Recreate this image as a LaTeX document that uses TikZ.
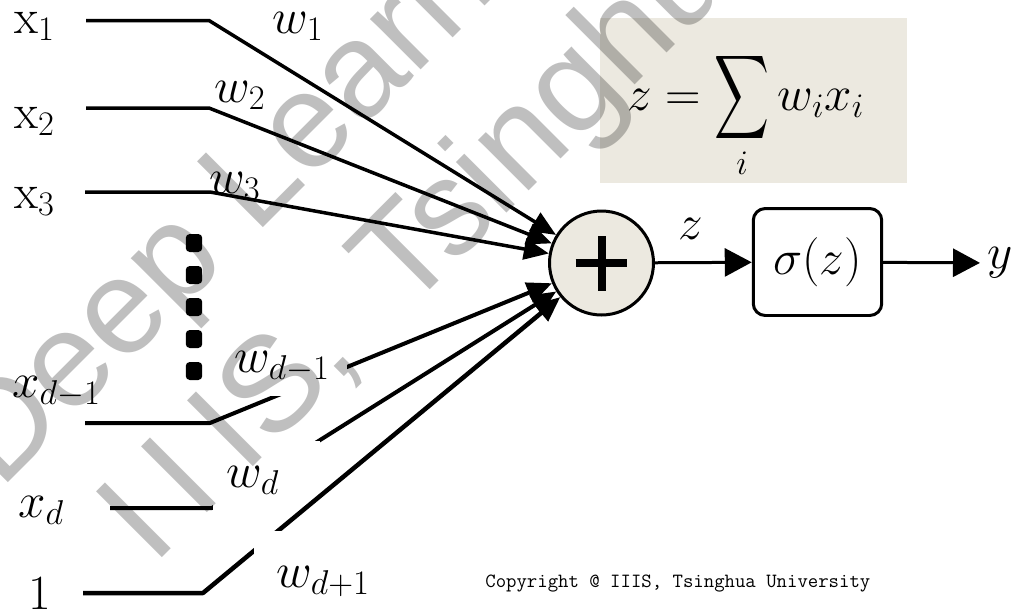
\RequirePackage{fix-cm}
\documentclass[tikz,border=0pt]{standalone}
\usepackage{amsmath}
\usepackage{fontspec}
\usepackage{graphicx}
\usetikzlibrary{arrows.meta}
\newfontfamily\wmfont{Liberation Sans}
\definecolor{sumbeige}{RGB}{236,233,224}

\begin{document}
\begin{tikzpicture}[x=0.02cm,y=-0.02cm,
    lab/.style={font=\fontsize{28}{33}\selectfont,inner sep=0pt,anchor=base west},
    wire/.style={line width=0.07cm,line join=round},
    arr/.style={wire,-{Triangle[length=0.5cm,width=0.42cm]}},
    outarr/.style={line width=0.06cm,-{Triangle[length=0.54cm,width=0.56cm]}},
    sumnode/.style={circle,draw=black,line width=0.06cm,fill=sumbeige,
                minimum size=2.08cm,inner sep=0pt},
    sigbox/.style={draw=black,line width=0.06cm,rounded corners=0.24cm,
                minimum width=2.57cm,minimum height=2.14cm,
                font=\fontsize{28}{33}\selectfont},
    vdot/.style={fill=black,rounded corners=0.08cm,minimum width=0.33cm,
                minimum height=0.36cm,inner sep=0pt},
    mask/.style={fill=white},
    wmark/.style={font=\wmfont\fontsize{77}{90}\selectfont,text=black,
                text opacity=0.25,rotate=45,inner sep=0pt,anchor=base west}
  ]
    \useasboundingbox (0,0) rectangle (1012,610);
    \fill[sumbeige] (600,18) rectangle (907,183);
    \node[lab] (fml) at (627,110)
      {$z=\mathop{\vcenter{\hbox{\scalebox{0.87}[1.34]{$\displaystyle\sum$}}}}\limits_{i}w_ix_i$};
    \node[sumnode] (sum) at (601.5,263) {};
    \draw[line width=0.16cm] ([xshift=-0.52cm]sum.center) -- ([xshift=0.52cm]sum.center);
    \draw[line width=0.16cm] ([yshift=-0.55cm]sum.center) -- ([yshift=0.55cm]sum.center);
    \node[sigbox] (sig) at (817.5,262) {$\sigma(z)$};
    \node[lab,inner sep=0.15cm,anchor=west] (yout) at (980,263) {$y$};
    \draw[outarr] (sum) -- node[lab,anchor=base,pos=0.37,yshift=0.46cm] (zlab) {$z$} (sig);
    \draw[outarr] (sig) -- (yout);
    \node[lab] (x1) at (14,33) {$\mathrm{x}_1$};
    \node[lab] (x2) at (14,128) {$\mathrm{x}_2$};
    \node[lab] (x3) at (14,208) {$\mathrm{x}_3$};
    \node[lab] (xd1) at (12,397) {$x_{d-1}$};
    \node[lab] (xd) at (18,517) {$x_d$};
    \node[lab] (one) at (28,609) {$1$};
    \foreach \k/\y in {1/243,2/275,3/307,4/339,5/371}
      \node[vdot] (dot\k) at (194,\y) {};
    \coordinate (in1) at (86,20.5);
    \coordinate (in2) at (86,108);
    \coordinate (in3) at (85,192);
    \coordinate (in4) at (85,423);
    \coordinate (in5) at (110,508);
    \coordinate (in6) at (83,593);
    \draw[arr] (in1) -- ++(123,0) -- (sum);
    \draw[arr] (in2) -- ++(123,0) -- (sum);
    \draw[arr] (in3) -- ++(125,0) -- (sum);
    \draw[arr,line width=0.08cm] (in4) -- ++(125,0) -- (sum);
    \draw[arr,line width=0.08cm] (in5) -- ++(102,0) -- (sum);
    \fill[mask] (222,338) rectangle (347,396);
    \fill[mask] (213,441) rectangle (320,510);
    \draw[arr,line width=0.09cm] (in6) -- ++(120,0) -- (sum);
    \fill[mask] (254,531) rectangle (385,610);
    \node[lab] (w1) at (272,33) {$w_1$};
    \node[lab] (w2) at (214,102) {$w_2$};
    \node[lab] (w3) at (209,193) {$w_3$};
    \node[lab] (wd1) at (234,372) {$w_{d-1}$};
    \node[lab] (wd) at (226,487) {$w_d$};
    \node[lab] (wd2) at (276,587) {$w_{d+1}$};
    \node[font=\fontsize{11.5}{14}\selectfont\ttfamily,inner sep=0pt,anchor=base west]
      (copy) at (485,587) {Copyright @ IIIS, Tsinghua University};
    \node[wmark] (wm1) at (0,491) {Deep Learning,};
    \node[wmark] (wm2) at (153,567) {I\kern0.54cm I\kern0.54cm IS,\kern0.24cm\ \kern0.24cm Tsinghua};
  \end{tikzpicture}
\end{document}
